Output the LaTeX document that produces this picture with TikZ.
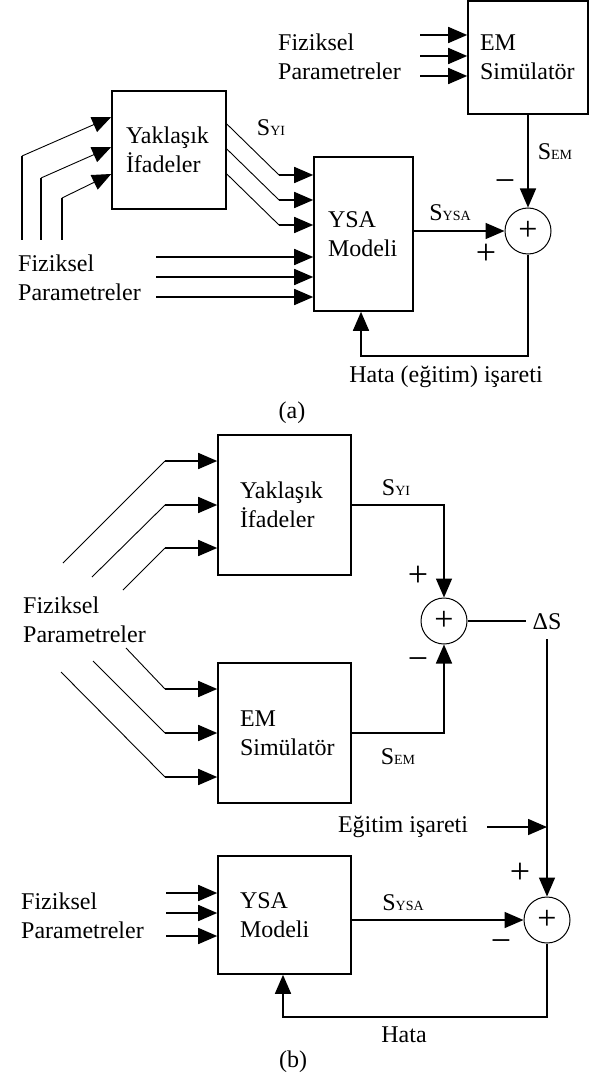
\documentclass[tikz,border=0pt]{standalone}
\usepackage{fontspec}
\setmainfont{Liberation Serif}
\usetikzlibrary{arrows.meta,calc}
\newcommand{\sml}[1]{{\fontsize{14}{14}\selectfont #1}}
\tikzset{
  every node/.style={font=\fontsize{24}{29}\selectfont, inner sep=0pt},
  blk/.style={draw, rectangle, line width=1.6pt, align=left, inner ysep=0pt},
  sumc/.style={draw, circle, line width=1pt, minimum size=46pt, font=\fontsize{34}{34}\selectfont},
  sgn/.style={font=\fontsize{36}{36}\selectfont},
  lbl/.style={align=left},
  ln/.style={line width=1.6pt},
  thn/.style={line width=0.9pt},
  arr/.style={-{Triangle[length=19pt,width=16pt]}}
}
\begin{document}
\begin{tikzpicture}[x=1pt,y=-1pt]
\useasboundingbox (0,0) rectangle (592,1083);

% ---------------- (a) ----------------
\node[blk, minimum width=114pt, minimum height=118pt, inner xsep=14pt, text width=86pt] (ya) at (169,150) {Yaklaşık\\İfadeler};
\node[blk, minimum width=99pt, minimum height=154pt, inner xsep=14pt, text width=71pt] (ysa) at (363.5,234) {YSA\\Modeli};
\node[blk, minimum width=120pt, minimum height=113pt, inner xsep=12pt, text width=96pt] (em) at (528,57.5) {EM\\Simülatör};
\node[sumc] (s1) at (528,231) {+};

% physical parameters into the EM simulator
\node[lbl, anchor=west] (fpa) at (278,56.5) {Fiziksel\\Parametreler};
\foreach \y [count=\i] in {35,56,76} {
  \coordinate (ein\i) at (420,\y);
  \draw[ln,arr] (ein\i) -- (em.west |- ein\i);
}

% physical parameters into the approximate expressions
\foreach \xa/\yk/\yt [count=\i] in {22/156/117, 41/178/147, 62/198/174} {
  \coordinate (yb\i) at (\xa,240);
  \coordinate (yk\i) at (\xa,\yk);
  \coordinate (yt\i) at (0,\yt);
  \draw[ln] (yb\i) -- (yk\i);
  \draw[thn,arr] (yk\i) -- (ya.west |- yt\i);
}

% approximate expressions into the ANN model
\foreach \ys/\yd [count=\i] in {124/175, 149/200, 174/225} {
  \coordinate (hs\i) at (0,\ys);
  \coordinate (yj\i) at (279,\yd);
  \draw[thn] (ya.east |- hs\i) -- (yj\i);
  \draw[ln,arr] (yj\i) -- (ysa.west |- yj\i);
}
\node (syi) at (271,128) {S\sml{YI}};

% physical parameters into the ANN model
\node[lbl, anchor=west] (fpb) at (18,277.5) {Fiziksel\\Parametreler};
\foreach \y [count=\i] in {257,277,297} {
  \coordinate (fin\i) at (156,\y);
  \draw[ln,arr] (fin\i) -- (ysa.west |- fin\i);
}

% summing junction and error feedback
\draw[ln,arr] (ysa.east |- s1) -- (s1.west);
\node (sysa) at (450,213) {S\sml{YSA}};
\draw[ln,arr] (em.south) -- (s1.north);
\node (sem) at (555,152) {S\sml{EM}};
\node[sgn] (pa) at (486,254) {+};
\node[sgn] (ma) at (505,186) {−};
\coordinate (fa) at (361,356);
\draw[ln,arr] (s1.south) |- (fa) -- (fa |- ysa.south);
\node (hata1) at (446,377) {Hata (eğitim) işareti};
\node (capa) at (292,413) {(a)};

% ---------------- (b) ----------------
\node[blk, minimum width=133pt, minimum height=140pt, inner xsep=22pt, text width=89pt] (ya2) at (284.5,505) {Yaklaşık\\İfadeler};
\node[blk, minimum width=133pt, minimum height=140pt, inner xsep=22pt, text width=89pt] (em2) at (284.5,733) {EM\\Simülatör};
\node[blk, minimum width=133pt, minimum height=118pt, inner xsep=22pt, text width=89pt] (ysa2) at (284.5,915) {YSA\\Modeli};
\node[sumc] (s2) at (444,621) {+};
\node[sumc] (s3) at (547,920) {+};

\node[lbl, anchor=west] (fpc) at (23,620) {Fiziksel\\Parametreler};
\foreach \xa/\yk/\yt [count=\i] in {63/563/461, 92/577/505, 123/590/548} {
  \coordinate (pa\i) at (\xa,\yk);
  \coordinate (qa\i) at (165,\yt);
  \draw[thn] (pa\i) -- (qa\i);
  \draw[ln,arr] (qa\i) -- (ya2.west |- qa\i);
}
\foreach \xa/\yk/\yt [count=\i] in {126/648/689, 93/661/733, 61/672/777} {
  \coordinate (pb\i) at (\xa,\yk);
  \coordinate (qb\i) at (165,\yt);
  \draw[thn] (pb\i) -- (qb\i);
  \draw[ln,arr] (qb\i) -- (em2.west |- qb\i);
}

% difference between approximate expressions and simulator
\draw[ln,arr] (ya2.east) -| (s2.north);
\node (syi2) at (396,488) {S\sml{YI}};
\draw[ln,arr] (em2.east) -| (s2.south);
\node (sem2) at (398,757) {S\sml{EM}};
\node[sgn] (pb) at (418,576) {+};
\node[sgn] (mb) at (418,664) {−};
\node[inner xsep=6pt, inner ysep=9pt] (ds) at (547,622) {ΔS};
\draw[ln] (s2.east) -- (s2.east -| ds.west);
\draw[ln,arr] (ds.south) -- (s3.north);

% training signal
\node (egt) at (403,827) {Eğitim işareti};
\coordinate (eg0) at (487,827);
\draw[ln,arr] (eg0) -- (eg0 -| s3);
\node[sgn] (pc) at (520,873) {+};

% ANN model and its error loop
\node[lbl, anchor=west] (fpd) at (21,916) {Fiziksel\\Parametreler};
\foreach \y [count=\i] in {893,913,936} {
  \coordinate (fd\i) at (166,\y);
  \draw[ln,arr] (fd\i) -- (ysa2.west |- fd\i);
}
\draw[ln,arr] (ysa2.east |- s3) -- (s3.west);
\node (sysa2) at (403,903) {S\sml{YSA}};
\node[sgn] (mc) at (501,946) {−};
\coordinate (fb) at (283,1017);
\draw[ln,arr] (s3.south) |- (fb) -- (fb |- ysa2.south);
\node (hata2) at (404,1035) {Hata};
\node (capb) at (293,1062) {(b)};
\end{tikzpicture}
\end{document}
